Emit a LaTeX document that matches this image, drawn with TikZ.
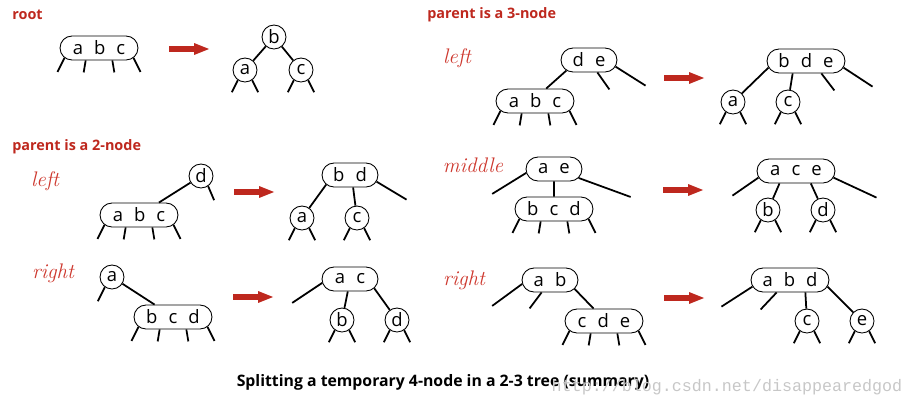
\documentclass[tikz,border=0pt]{standalone}
\usepackage{fontspec}
\setsansfont{Open Sans}
\setmonofont{Liberation Mono}
\usetikzlibrary{arrows.meta, shapes.misc}

\definecolor{splitred}{RGB}{190,40,30}
\definecolor{casered}{RGB}{205,55,45}
\newcommand{\kgap}{\hspace{0.6em}}

\begin{document}
\begin{tikzpicture}[x = 0.02cm, y = -0.02cm,
	link/.style = {line width = 1pt},
	keyfont/.style = {font = \sffamily\fontsize{10.5}{12}\selectfont},
	twonode/.style = {circle, draw, line width = 0.5pt, minimum size = 0.48cm, inner sep = 0pt, keyfont},
	bignode/.style = {rounded rectangle, draw, line width = 0.5pt, minimum height = 0.48cm, inner xsep = 0pt, inner ysep = 0pt, keyfont},
	threenode/.style = {bignode, minimum width = 1.12cm},
	fournode/.style = {bignode, minimum width = 1.56cm},
	heading/.style = {anchor = west, inner sep = 0pt, text = splitred, font = \sffamily\bfseries\fontsize{8.2}{10}\selectfont},
	casename/.style = {text = casered, font = \itshape\fontsize{12}{14}\selectfont},
	splitarrow/.style = {-{Triangle[length = 9pt, width = 6pt]}, line width = 3pt, splitred}]

	\useasboundingbox (0, 0) rectangle (914, 406);

	% Headings
	
	\node [heading] (hroot) at (12, 15) {root};
	\node [heading] (htwo) at (12, 147) {parent is a 2-node};
	\node [heading] (hthree) at (427, 15) {parent is a 3-node};
	
	\node [casename] (ctl) at (45, 181) {left};
	\node [casename] (ctr) at (53, 273) {right};
	\node [casename] (chl) at (457, 58) {left};
	\node [casename] (chm) at (473, 165) {middle};
	\node [casename] (chr) at (464, 280) {right};

	% Root
	
	\node [fournode] (rabc) at (99, 48) {a\kgap b\kgap c};
	\node [twonode] (rb) at (274, 37) {b};
	\node [twonode] (ra) at (245, 70) {a};
	\node [twonode] (rc) at (301, 70) {c};
	\draw [link] (rb) -- (ra);
	\draw [link] (rb) -- (rc);
	
	% Parent is a 2-node, left
	
	\node [twonode] (tLd) at (201, 176) {d};
	\node [fournode] (tLabc) at (139, 215) {a\kgap b\kgap c};
	\draw [link] (tLd) -- (tLabc.32);
	\draw [link] (tLd.305) -- ++(6, 14);
	
	\node [threenode] (tLbd) at (350, 175) {b\kgap d};
	\node [twonode] (tLa) at (302, 218) {a};
	\node [twonode] (tLc) at (357, 218) {c};
	\draw [link] (tLbd.202) -- (tLa);
	\draw [link] (tLbd.284) -- (tLc);
	\draw [link] (tLbd.346) -- ++(30, 18);
	
	% Parent is a 2-node, right
	
	\node [twonode] (tRa) at (112, 277) {a};
	\node [fournode] (tRbcd) at (173, 317) {b\kgap c\kgap d};
	\draw [link] (tRa) -- (tRbcd.146);
	\draw [link] (tRa.235) -- ++(-7, 14);
	
	\node [threenode] (tRac) at (350, 279) {a\kgap c};
	\node [twonode] (tRb) at (342, 320) {b};
	\node [twonode] (tRd) at (397, 320) {d};
	\draw [link] (tRac.188) -- ++(-30, 20);
	\draw [link] (tRac.260) -- (tRb);
	\draw [link] (tRac.339) -- (tRd);
	
	% Parent is a 3-node, left
	
	\node [threenode] (hLde) at (589, 60) {d\kgap e};
	\node [fournode] (hLabc) at (535, 101) {a\kgap b\kgap c};
	\draw [link] (hLde.205) -- (hLabc.48);
	\draw [link] (hLde.304) -- ++(12, 17);
	\draw [link] (hLde.346) -- ++(30, 19);
	
	\node [fournode] (hLbde) at (806, 61) {b\kgap d\kgap e};
	\node [twonode] (hLa) at (733, 102) {a};
	\node [twonode] (hLc) at (788, 102) {c};
	\draw [link] (hLbde.190) -- (hLa);
	\draw [link] (hLbde.223) -- (hLc);
	\draw [link] (hLbde.321) -- ++(13, 17);
	\draw [link] (hLbde.350) -- ++(29, 19);
	
	% Parent is a 3-node, middle
	
	\node [threenode] (hMae) at (554, 169) {a\kgap e};
	\node [fournode] (hMbcd) at (554, 209) {b\kgap c\kgap d};
	\draw [link] (hMae.188) -- ++(-34, 21);
	\draw [link] (hMae.340) -- ++(52, 19);
	\draw [link] (hMae) -- (hMbcd);
	
	\node [fournode] (hMace) at (796, 171) {a\kgap c\kgap e};
	\node [twonode] (hMb) at (768, 210) {b};
	\node [twonode] (hMd) at (823, 210) {d};
	\draw [link] (hMace.190) -- ++(-26, 18);
	\draw [link] (hMace.350) -- ++(43, 20);
	\draw [link] (hMace.217) -- (hMb);
	\draw [link] (hMace.320) -- (hMd);
	
	% Parent is a 3-node, right
	
	\node [threenode] (hRab) at (550, 280) {a\kgap b};
	\node [fournode] (hRcde) at (604, 321) {c\kgap d\kgap e};
	\draw [link] (hRab.188) -- ++(-30, 22);
	\draw [link] (hRab.236) -- ++(-12, 16);
	\draw [link] (hRab.340) -- (hRcde.130);
	
	\node [fournode] (hRabd) at (790, 280) {a\kgap b\kgap d};
	\node [twonode] (hRc) at (807, 321) {c};
	\node [twonode] (hRe) at (862, 321) {e};
	\draw [link] (hRabd.190) -- ++(-31, 20);
	\draw [link] (hRabd.223) -- ++(-16, 17);
	\draw [link] (hRabd.321) -- (hRc);
	\draw [link] (hRabd.350) -- (hRe);
	
	% Child links of the 4-nodes and 2-nodes
	
	\foreach \n in {rabc, tLabc, tRbcd, hLabc, hMbcd, hRcde} {
		\draw [link] (\n.196) -- ++(-7, 14);
		\draw [link] (\n.223) -- ++(-2, 12);
		\draw [link] (\n.317) -- ++(2, 12);
		\draw [link] (\n.344) -- ++(7, 14);
	}
	
	\foreach \n in {ra, rc, tLa, tLc, tRb, tRd, hLa, hLc, hMb, hMd, hRc, hRe} {
		\draw [link] (\n.235) -- ++(-6, 12);
		\draw [link] (\n.305) -- ++(6, 12);
	}
	
	% Split arrows
	
	\foreach \x/\y in {169/49, 234/192, 233/297, 664/78, 663/190, 664/298}
		\draw [splitarrow] (\x, \y) -- ++(41, 0);
	
	% Caption
	
	\node [font = \sffamily\bfseries\fontsize{9}{11}\selectfont] (caption) at (443, 382) {Splitting a temporary 4-node in a 2-3 tree (summary)};
	\node [text = black!22, font = \ttfamily\fontsize{9.5}{11}\selectfont] (mark) at (727, 387) {http://blog.csdn.net/disappearedgod};
	
\end{tikzpicture}
\end{document}
